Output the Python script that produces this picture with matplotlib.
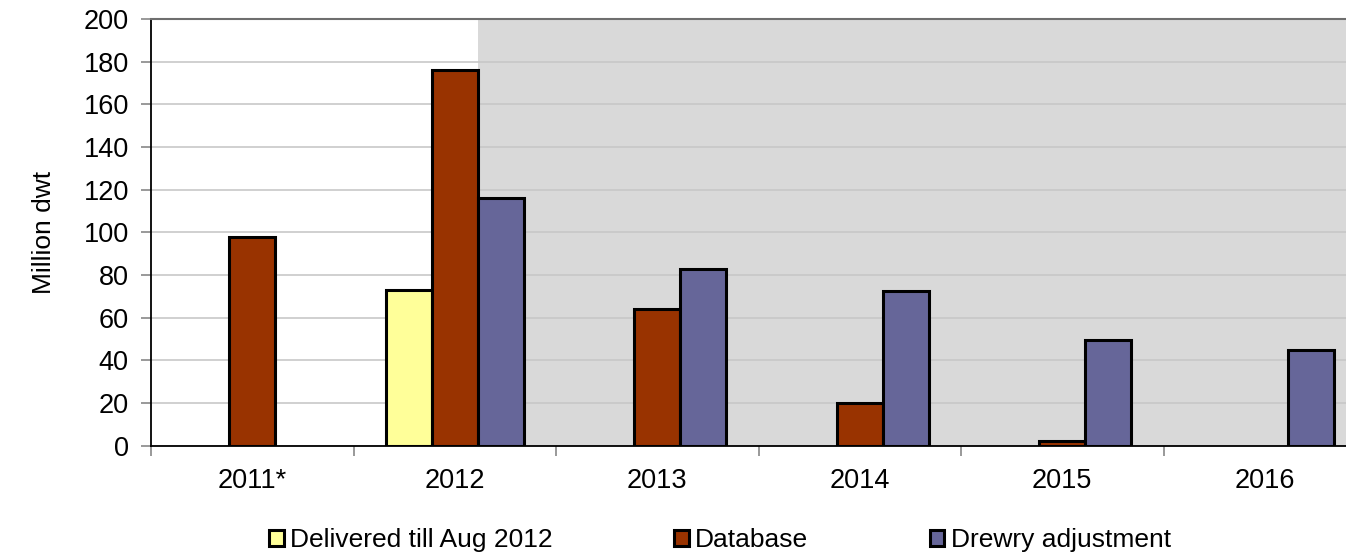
import numpy as np
import matplotlib.pyplot as plt

plt.rcParams['font.family'] = ['Liberation Sans', 'DejaVu Sans']

years = ['2011*', '2012', '2013', '2014', '2015', '2016']
delivered = [0, 73, 0, 0, 0, 0]          # million dwt delivered till Aug 2012
database = [98, 176, 64, 20, 2, 0]       # orderbook database
drewry = [0, 116, 83, 72.6, 49.7, 45]    # Drewry adjusted deliveries

YELLOW = '#ffff99'
RED = '#993300'
BLUE = '#666699'


def main():
    fig = plt.figure(figsize=(13.46, 5.55), dpi=100)
    ax = fig.add_axes([151 / 1346, 109.3 / 555, 1215 / 1346, 426.7 / 555])

    x = np.arange(len(years))
    w = 0.227

    # shaded forecast period, starting after the 2012 database bar
    ax.axvspan(1 + w / 2, len(years) - 0.5, color='#d9d9d9', zorder=0.2, lw=0)

    bar_kw = dict(width=w, edgecolor='black', linewidth=2.2, zorder=2)
    b1 = ax.bar(x - w, delivered, color=YELLOW, **bar_kw)
    b2 = ax.bar(x, database, color=RED, **bar_kw)
    b3 = ax.bar(x + w, drewry, color=BLUE, **bar_kw)
    # hide empty bars so they leave no outline on the axis
    for bars, vals in ((b1, delivered), (b2, database), (b3, drewry)):
        for b, v in zip(bars, vals):
            if v == 0:
                b.set_visible(False)

    ax.set_xlim(-0.5, len(years) - 0.5)
    ax.set_ylim(0, 200)
    ax.set_yticks(range(0, 201, 20))
    ax.set_axisbelow(True)
    ax.yaxis.grid(True, color='#c8c8c8', linewidth=1.2)

    ax.set_xticks(x)
    ax.set_xticklabels(years)
    ax.set_xticks(np.arange(-0.5, len(years), 1), minor=True)
    ax.tick_params(axis='x', which='major', length=0, pad=16, labelsize=19.5)
    ax.tick_params(axis='x', which='minor', length=7, color='#888888', width=1.2)
    ax.tick_params(axis='y', length=7, color='#888888', width=1.2, pad=9, labelsize=19.5)

    for side in ('left', 'bottom'):
        ax.spines[side].set_color('black')
        ax.spines[side].set_linewidth(1.3)
    ax.spines['top'].set_color('#6e6e6e')
    ax.spines['top'].set_linewidth(1.5)
    ax.spines['right'].set_visible(False)

    ax.set_ylabel('Million dwt', fontsize=19, labelpad=20)

    fig.legend([b1[1], b2[0], b3[1]],
               ['Delivered till Aug 2012', 'Database', 'Drewry adjustment'],
               loc='center', bbox_to_anchor=(720 / 1346, 1 - 540 / 555),
               ncol=3, frameon=False, fontsize=19, handlelength=0.55,
               handleheight=0.55, handletextpad=0.25, columnspacing=4.6,
               borderpad=0)

    fig.savefig('out.png', dpi=100)


if __name__ == '__main__':
    main()
